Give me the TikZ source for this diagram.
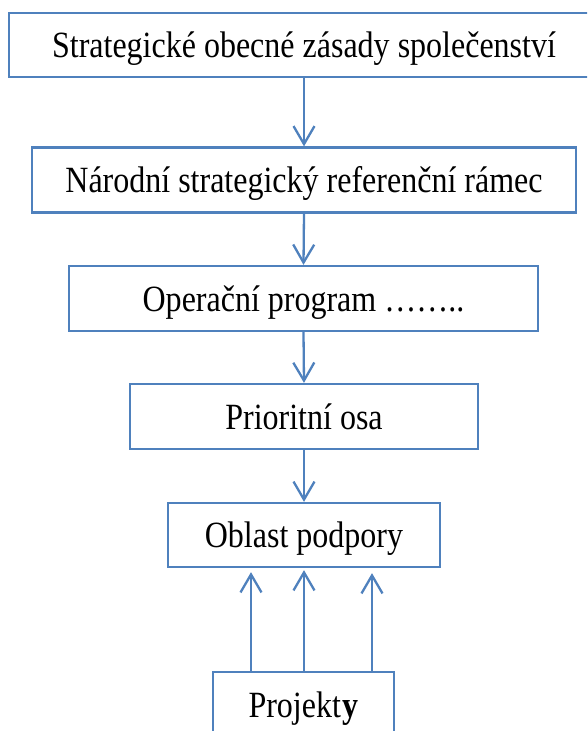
\documentclass[tikz,border=0pt]{standalone}
\usepackage{fontspec}
\setmainfont[FakeStretch=0.865]{Liberation Serif}
\usetikzlibrary{arrows.meta}
\definecolor{boxblue}{RGB}{79,129,189}
\tikzset{
  box/.style={draw=boxblue, line width=2.3pt, fill=white, inner sep=0pt, align=center,
    text height=28pt, text depth=3pt, font=\fontsize{37}{40}\selectfont},
  arr/.style={draw=boxblue, line width=2.3pt, -{Straight Barb[length=18pt,width=21pt,line width=2.3pt]}},
}
\begin{document}
\begin{tikzpicture}[x=1pt,y=-1pt]
\useasboundingbox[fill=white] (0,0) rectangle (587,731);
\clip (0,0) rectangle (587,731);
\node[box, minimum width=590pt, minimum height=64pt] (b1) at (304,45) {Strategické obecné zásady společenství};
\node[box, minimum width=544pt, minimum height=65pt] (b2) at (304,180) {Národní strategický referenční rámec};
\node[box, minimum width=469pt, minimum height=65pt] (b3) at (303.5,298.5) {Operační program ……..};
\node[box, minimum width=348pt, minimum height=65pt] (b4) at (304,416.5) {Prioritní osa};
\node[box, minimum width=272pt, minimum height=64pt] (b5) at (304,535) {Oblast podpory};
\node[box, minimum width=181pt, minimum height=65pt] (b6) at (303.5,704.5) {Projekt\kern1.5pt\textbf{y}};
\draw[arr] (b1.south) -- (b2.north);
\draw[arr] (b2.south) -- (b3.north);
\draw[arr] (b3.south) -- (b4.north);
\draw[arr] (b4.south) -- (b5.north);
\coordinate (xl) at (251,0);
\coordinate (xm) at (304,0);
\coordinate (xr) at (372,0);
\draw[arr] (b6.north -| xl) -- ([yshift=-4pt]b5.south -| xl);
\draw[arr] (b6.north -| xm) -- ([yshift=-2pt]b5.south -| xm);
\draw[arr] (b6.north -| xr) -- ([yshift=-5pt]b5.south -| xr);
\end{tikzpicture}
\end{document}
